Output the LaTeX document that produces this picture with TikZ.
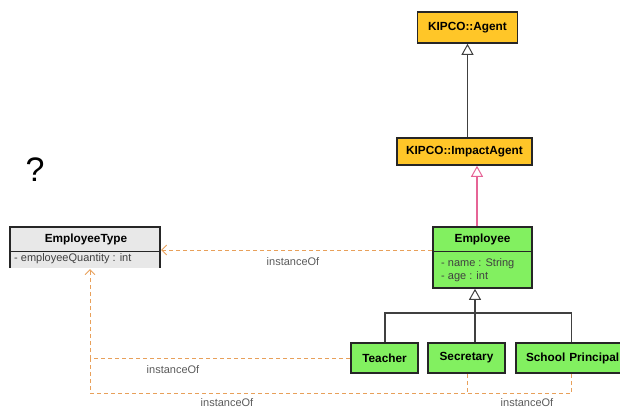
\documentclass[tikz,border=0pt]{standalone}
\usepackage{fontspec}
\setmainfont{Liberation Sans}
\usetikzlibrary{arrows.meta}
\definecolor{agentyellow}{RGB}{255,198,40}
\definecolor{classgreen}{RGB}{130,240,96}
\definecolor{typegray}{RGB}{232,232,232}
\definecolor{instorange}{RGB}{232,160,90}
\definecolor{inherpink}{RGB}{230,100,150}
\definecolor{labelgray}{RGB}{90,90,90}
\tikzset{
  headfont/.style={font=\bfseries\fontsize{11.8}{13}\selectfont},
  classbox/.style={draw=black!85, line width=1.6pt, inner sep=0pt, headfont},
  agentbox/.style={classbox, fill=agentyellow},
  greenbox/.style={classbox, fill=classgreen},
  attr/.style={inner sep=0pt, anchor=west, font=\fontsize{11}{12}\selectfont, text=black!75},
  instof/.style={draw=instorange, line width=0.9pt, dash pattern=on 4pt off 3pt,
     -{Straight Barb[length=5pt,width=10pt,line width=0.9pt]}},
  instline/.style={draw=instorange, line width=0.9pt, dash pattern=on 4pt off 3pt},
  inherit/.style={draw=black!75, line width=1.2pt,
     -{Triangle[open,length=11pt,width=12pt,line width=1pt,fill=white]}},
  genline/.style={draw=black!75, line width=1.2pt},
  lbl/.style={inner sep=0pt, font=\fontsize{11}{12}\selectfont, text=labelgray}
}
\begin{document}
\begin{tikzpicture}[x=1pt,y=-1pt]
\useasboundingbox (0,0) rectangle (620,409);
\begin{scope}
\clip (0,0) rectangle (620,409);

% upper hierarchy
\node[agentbox, minimum width=100pt, minimum height=31pt] (agent) at (467.5,27.5) {KIPCO::Agent};
\node[agentbox, minimum width=135pt, minimum height=27pt] (impact) at (464.5,151.5) {KIPCO::ImpactAgent};

% Employee class with attributes
\node[greenbox, minimum width=99pt, minimum height=61pt] (emp) at (482.5,257.5) {};
\draw[black!85, line width=1pt] (emp.west |- 0,251) -- (emp.east |- 0,251);
\node[inner sep=0pt, headfont] (empname) at (482.5,239) {Employee};
\node[attr] (empattr1) at (441,264) {- name : String};
\node[attr] (empattr2) at (441,277) {- age : int};

% EmployeeType class (lower edge open)
\fill[typegray] (10,227) rectangle (160,268);
\draw[black!85, line width=1.6pt] (10,268) -- (10,227) -- (160,227) -- (160,268);
\draw[black!85, line width=1pt] (10,251) -- (160,251);
\node[inner sep=0pt, headfont] (etname) at (86,239) {EmployeeType};
\node[attr] (etattr) at (14,259) {- employeeQuantity : int};
\coordinate (etright) at (161,250);
\coordinate (etbottom) at (90,269);

% subclasses
\node[greenbox, minimum width=67pt, minimum height=30pt] (teacher) at (384.5,358) {Teacher};
\node[greenbox, minimum width=77pt, minimum height=30pt] (secretary) at (466.5,358) {Secretary};
\node[greenbox, minimum width=111pt, minimum height=30pt, text width=105pt, align=left] (principal) at (571.5,358) {\hspace*{7pt}School Principal};

\node[font=\fontsize{34}{36}\selectfont, inner sep=0pt] (question) at (35,170) {?};

% generalisations
\draw[inherit] (impact.north -| agent.south) -- (agent.south);
\draw[inherit, draw=inherpink] (emp.north -| 477,0) -- (impact.south -| 477,0);
\coordinate (genjoin) at (475,313);
\draw[inherit] (genjoin) -- (emp.south -| genjoin);
\draw[genline] (teacher.north -| 385,0) |- (genjoin);
\draw[genline] (principal.north) |- (genjoin);
\draw[genline] (secretary.north -| genjoin) -- (genjoin);

% instanceOf dependencies
\draw[instof] (emp.west |- etright) -- (etright);
\draw[instof] (teacher.west) -| (etbottom);
\draw[instline] (principal.south) |- (90,393) -- (90,358);
\draw[instline] (secretary.south -| 467,0) -- (467,393);

\node[lbl] (l1) at (293,262) {instanceOf};
\node[lbl] (l2) at (173,370) {instanceOf};
\node[lbl] (l3) at (227,403) {instanceOf};
\node[lbl] (l4) at (527,403) {instanceOf};
\end{scope}
\end{tikzpicture}
\end{document}
